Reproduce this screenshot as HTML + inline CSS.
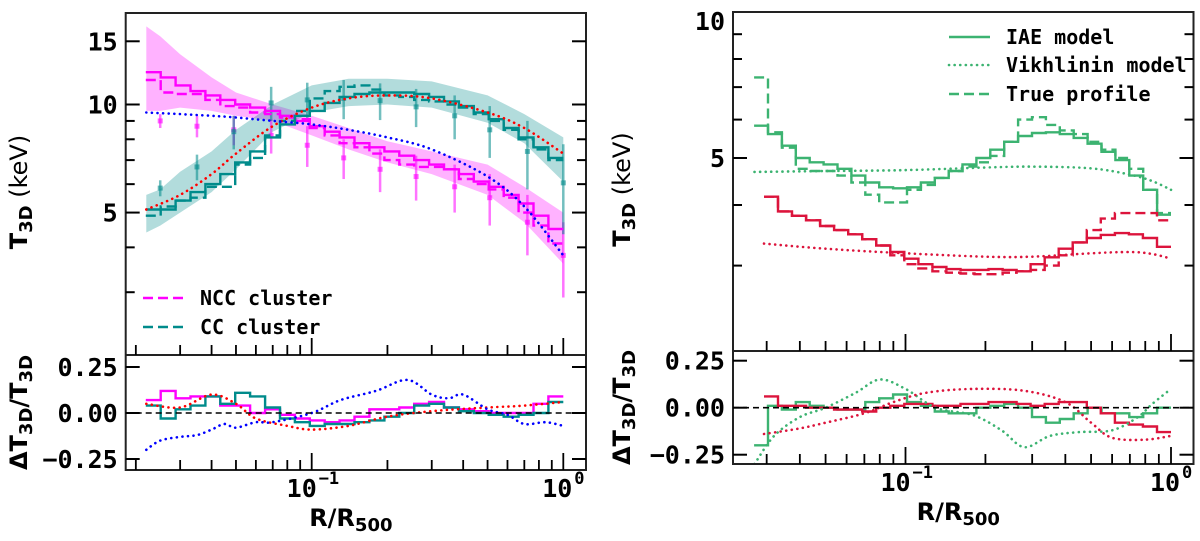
<!DOCTYPE html>
<html><head><meta charset="utf-8"><style>
html,body{margin:0;padding:0;background:#fff;}
svg{display:block;}
.tk{font-family:"DejaVu Sans Mono","Liberation Mono",monospace;font-weight:bold;font-size:25px;fill:#000;}
.lg{font-family:"DejaVu Sans Mono","Liberation Mono",monospace;font-weight:bold;font-size:20px;fill:#000;}
.ax{font-family:"DejaVu Sans","Liberation Sans",sans-serif;font-weight:bold;font-size:24px;fill:#000;}
</style></head><body>
<svg id="fig" width="1200" height="541" viewBox="0 0 1200 541" xmlns="http://www.w3.org/2000/svg"></svg>
<script>
// ---------- LEFT PANEL DATA ----------
const leftBinStart = 0.0219;
const nccSolid = [12.3,11.9,11.3,10.9,10.6,10.3,10.0,9.8,9.6,9.3,9.0,8.7,8.4,8.1,7.8,7.6,7.4,7.2,7.0,6.8,6.6,6.4,6.1,5.9,5.6,5.3,4.9,4.5];
const nccDashed = [11.7,10.8,10.7,10.7,10.3,9.9,9.8,9.5,9.4,9.2,9.1,8.6,8.2,7.8,7.6,7.3,7.0,6.8,6.7,6.7,6.6,6.2,6.0,5.8,5.5,5.0,4.6,4.1];
const ccSolid = [5.1,5.1,5.4,5.7,6.0,6.4,6.9,7.4,8.1,8.8,9.3,9.6,10.1,10.5,10.7,10.8,10.8,10.8,10.7,10.5,10.2,9.9,9.5,9.1,8.6,8.1,7.6,7.1];
const ccDashed = [4.9,5.2,5.4,5.5,5.9,5.9,6.8,7.1,8.2,9.0,9.6,10.4,10.9,11.2,11.3,11.0,10.6,10.5,10.3,10.2,10.0,9.8,9.4,9.0,8.5,8.0,7.5,7.0];
const leftModelX = [0.022,0.03,0.04,0.05,0.07,0.1,0.14,0.2,0.3,0.5,0.7,1.0];
const ccModel = [5.1,5.6,6.4,7.3,8.7,9.8,10.4,10.6,10.4,9.5,8.6,7.3];
const nccModel = [9.5,9.4,9.3,9.2,9.0,8.8,8.5,8.1,7.5,6.3,5.2,3.8];
const bandX = [0.022,0.025,0.03,0.04,0.05,0.07,0.1,0.14,0.2,0.3,0.5,0.7,1.0];
const nccUpper = [16.5,15.5,13.8,11.9,10.8,10.0,9.3,8.6,7.9,7.4,6.8,5.9,5.0];
const nccLower = [9.6,9.6,9.8,9.6,9.3,9.0,8.2,7.5,6.9,6.4,5.6,4.7,3.6];
const ccUpper = [5.6,5.8,6.5,7.4,8.5,10.0,11.3,11.8,11.8,11.6,10.6,9.4,8.1];
const ccLower = [4.4,4.6,5.0,5.7,6.6,8.4,9.5,9.9,10.0,9.8,8.9,7.8,6.1];
const pointX = [0.025,0.035,0.049,0.069,0.096,0.134,0.187,0.26,0.37,0.51,0.72,1.0];
const nccPoints = [9.0,8.7,8.5,8.2,7.7,7.1,6.6,6.3,5.9,5.5,4.7,3.8];
const nccErr = [0.4,0.6,0.8,0.9,1.0,0.9,0.9,0.9,0.9,0.9,0.9,0.9];
const ccPoints = [5.85,6.7,8.4,10.1,10.3,10.4,10.25,9.85,9.3,8.5,7.4,6.05];
const ccErr = [0.3,0.55,0.9,1.1,1.2,1.3,1.2,1.2,1.3,1.4,1.6,1.7];
const nccRes = [0.07,0.12,0.08,0.09,0.09,0.04,0.04,0.0,0.02,-0.01,-0.03,-0.04,-0.05,-0.04,-0.02,0.02,0.02,0.03,0.05,0.06,0.03,0.02,0.01,0.0,0.0,0.0,0.05,0.09];
const ccRes = [0.04,-0.03,0.02,0.04,0.09,0.05,0.11,0.09,0.03,-0.03,-0.05,-0.07,-0.06,-0.06,-0.05,-0.04,-0.02,0.0,0.04,0.05,0.03,0.01,0.0,-0.01,-0.02,-0.01,0.0,0.06];
const ccModelResX = [0.022,0.03,0.04,0.05,0.06,0.08,0.1,0.14,0.2,0.3,0.5,0.7,1.0];
const ccModelRes = [0.05,0.03,0.1,0.05,-0.03,-0.07,-0.09,-0.07,-0.02,0.01,0.03,0.04,0.06];
const nccModelResX = [0.022,0.025,0.03,0.035,0.04,0.045,0.05,0.06,0.07,0.1,0.13,0.18,0.24,0.3,0.35,0.4,0.5,0.6,0.7,0.85,1.0];
const nccModelRes = [-0.2,-0.15,-0.13,-0.12,-0.09,-0.06,-0.08,-0.05,-0.05,0.0,0.07,0.12,0.18,0.1,0.08,0.1,0.02,-0.01,-0.06,-0.05,-0.07];
// ---------- RIGHT PANEL DATA ----------
const greenBinStart = 0.0269;
const redBinStart = 0.0293;
const greenIAE = [5.83,5.6,5.3,5.0,4.9,4.85,4.75,4.6,4.45,4.35,4.33,4.35,4.45,4.55,4.7,4.85,5.0,5.2,5.4,5.55,5.63,5.65,5.6,5.5,5.35,5.15,4.95,4.6,4.3,3.82];
const greenTrue = [7.33,5.65,5.25,4.75,4.7,4.7,4.6,4.45,4.2,4.05,4.05,4.3,4.4,4.55,4.7,4.8,4.9,5.05,5.4,6.0,6.07,5.85,5.7,5.6,5.4,5.2,5.0,4.75,4.3,3.85];
const greenVikX = [0.027,0.05,0.1,0.2,0.3,0.5,0.7,0.85,1.0];
const greenVik = [4.68,4.7,4.72,4.78,4.8,4.76,4.62,4.48,4.3];
const redIAE = [4.16,3.88,3.8,3.72,3.62,3.55,3.48,3.4,3.3,3.2,3.1,3.02,2.98,2.95,2.94,2.94,2.95,2.94,2.92,3.02,3.12,3.25,3.35,3.42,3.47,3.5,3.48,3.42,3.28];
const redTrue = [4.16,3.88,3.8,3.72,3.62,3.55,3.48,3.4,3.3,3.15,3.02,2.96,2.92,2.9,2.89,2.88,2.88,2.9,2.92,2.94,3.0,3.15,3.35,3.55,3.75,3.85,3.85,3.85,3.72];
const redVikX = [0.0293,0.05,0.1,0.2,0.3,0.5,0.7,0.85,1.0];
const redVik = [3.33,3.25,3.18,3.13,3.13,3.18,3.2,3.17,3.1];
const greenRes = [-0.2,0.01,-0.01,0.03,0.01,0.0,-0.01,-0.01,0.03,0.05,0.07,0.03,0.01,-0.02,-0.03,-0.03,0.0,0.01,0.02,0.0,-0.05,-0.08,-0.06,-0.03,0.0,-0.03,-0.03,-0.05,-0.03,0.0];
const redRes = [0.06,0.01,0.01,0.0,0.0,-0.01,-0.01,-0.02,0.0,0.01,0.02,0.02,0.01,0.01,0.02,0.02,0.03,0.03,0.02,0.01,0.02,0.03,0.03,0.0,-0.03,-0.08,-0.09,-0.1,-0.13];
const greenVikResX = [0.027,0.032,0.04,0.05,0.065,0.08,0.1,0.13,0.18,0.23,0.28,0.35,0.45,0.6,0.75,0.85,1.0];
const greenVikRes = [-0.3,-0.15,-0.05,0.0,0.08,0.15,0.1,0.0,-0.04,-0.12,-0.21,-0.15,-0.13,-0.12,-0.05,0.02,0.1];
const redVikResX = [0.0293,0.04,0.05,0.07,0.09,0.12,0.18,0.28,0.4,0.5,0.6,0.8,1.0];
const redVikRes = [-0.14,-0.11,-0.08,-0.03,0.03,0.08,0.1,0.09,0.03,-0.08,-0.16,-0.17,-0.15];
const mainTickVals = [2,3,4,5,6,7,8,9,10,15];
const resTickVals = [-0.25,0,0.25];

const NS = "http://www.w3.org/2000/svg";
const fig = document.getElementById('fig');
function mk(tag, attrs, parent){ const e=document.createElementNS(NS,tag); for(const k in attrs) e.setAttribute(k,attrs[k]); (parent||fig).appendChild(e); return e; }
const L10=Math.log10;

const PL = {x0:125.7,x1:586,dec:251.6,xm1:311.7, top:13,mid:355,bot:470, ref:104.5,ydec:359, zero:413, runit:184, clip:'cl'};
const PR = {x0:733,x1:1193.5,dec:265.5,xm1:905.5, top:12,mid:351,bot:464, ref:12,ydec:485, zero:407.7, runit:188, clip:'cr'};
function X(P,v){return P.xm1+(L10(v)+1)*P.dec;}
function Y(P,v){return P.ref-(L10(v)-1)*P.ydec;}
function R(P,v){return P.zero-v*P.runit;}

const defs=mk('defs',{});
[PL,PR].forEach(P=>{
  const c1=mk('clipPath',{id:P.clip+'m'},defs); mk('rect',{x:P.x0,y:P.top,width:P.x1-P.x0,height:P.mid-P.top},c1);
  const c2=mk('clipPath',{id:P.clip+'r'},defs); mk('rect',{x:P.x0,y:P.mid,width:P.x1-P.x0,height:P.bot-P.mid},c2);
});

function stepPath(P,start,vals,yf){
  const n=vals.length, a=L10(start), w=-a/n; let d='';
  for(let i=0;i<n;i++){ const xa=X(P,Math.pow(10,a+i*w)), xb=X(P,Math.pow(10,a+(i+1)*w)), y=yf(vals[i]);
    d += (i===0?'M':'L')+xa.toFixed(1)+','+y.toFixed(1)+'H'+xb.toFixed(1); }
  return d;
}
function smooth(pts){
  let d='M'+pts[0][0].toFixed(1)+','+pts[0][1].toFixed(1);
  for(let i=0;i<pts.length-1;i++){const p0=pts[Math.max(0,i-1)],p1=pts[i],p2=pts[i+1],p3=pts[Math.min(pts.length-1,i+2)];
    const c1=[p1[0]+(p2[0]-p0[0])/6,p1[1]+(p2[1]-p0[1])/6], c2=[p2[0]-(p3[0]-p1[0])/6,p2[1]-(p3[1]-p1[1])/6];
    d+='C'+c1.map(v=>v.toFixed(1))+' '+c2.map(v=>v.toFixed(1))+' '+p2[0].toFixed(1)+','+p2[1].toFixed(1);}
  return d;
}
function curve(P,xs,ys,yf,color,name,clip){
  const e=mk('path',{d:smooth(xs.map((x,i)=>[X(P,x),yf(ys[i])])),fill:'none',stroke:color,'stroke-width':2.6,'stroke-dasharray':'0.1 5.5','stroke-linecap':'round','clip-path':'url(#'+clip+')'});
  
  
}
function step(P,start,vals,yf,color,dash,name,clip){
  const e=mk('path',{d:stepPath(P,start,vals,yf),fill:'none',stroke:color,'stroke-width':2.4,'clip-path':'url(#'+clip+')'});
  if(dash) e.setAttribute('stroke-dasharray',dash);
  
  
}
function band(P,xs,up,lo,color,name){
  const pts=xs.map((x,i)=>X(P,x).toFixed(1)+','+Y(P,up[i]).toFixed(1)).concat(xs.map((x,i)=>X(P,x).toFixed(1)+','+Y(P,lo[i]).toFixed(1)).reverse());
  const e=mk('polygon',{points:pts.join(' '),fill:color,'fill-opacity':0.3,stroke:'none','clip-path':'url(#'+P.clip+'m)'});
  
  
}
function points(P,xs,vals,errs,color,name){
  const g=mk('g',{});
  
  
  xs.forEach((x,i)=>{const px=X(P,x);
    mk('line',{x1:px,x2:px,y1:Y(P,vals[i]+errs[i]),y2:Y(P,vals[i]-errs[i]),stroke:color,'stroke-width':2.5,'stroke-opacity':0.55},g);
    mk('rect',{x:px-2.5,y:Y(P,vals[i])-2.5,width:5,height:5,fill:color,'fill-opacity':0.6},g);});
}

function axes(P,side){
  const g=mk('g',{});
  
  
  mk('rect',{x:P.x0,y:P.top,width:P.x1-P.x0,height:P.bot-P.top,fill:'none',stroke:'#222','stroke-width':2},g);
  mk('line',{x1:P.x0,x2:P.x1,y1:P.mid,y2:P.mid,stroke:'#222','stroke-width':2},g);
  // zero line
  mk('line',{x1:P.x0,x2:P.x1,y1:P.zero,y2:P.zero,stroke:'#000','stroke-width':1.6,'stroke-dasharray':'6 4'},g);
  // y ticks main
  mainTickVals.forEach(v=>{const y=Y(P,v); if(y<P.top+1||y>P.mid-1) return; const maj=(v===5||v===10||v===15); const l=maj?14:9;
    mk('line',{x1:P.x0,x2:P.x0+l,y1:y,y2:y,stroke:'#000','stroke-width':2},g);
    mk('line',{x1:P.x1,x2:P.x1-l,y1:y,y2:y,stroke:'#000','stroke-width':2},g);
    if(maj){const t=mk('text',{x:P.x0-8,y:y+9,'text-anchor':'end',class:'tk'},g); t.textContent=String(v);}
  });
  if(side==='right'){const t=mk('text',{x:P.x0-8,y:P.top+18,'text-anchor':'end',class:'tk'},g); t.textContent='10';}
  resTickVals.forEach(v=>{const y=R(P,v);
    mk('line',{x1:P.x0,x2:P.x0+14,y1:y,y2:y,stroke:'#000','stroke-width':2},g);
    mk('line',{x1:P.x1,x2:P.x1-14,y1:y,y2:y,stroke:'#000','stroke-width':2},g);
    const t=mk('text',{x:P.x0-8,y:y+9,'text-anchor':'end',class:'tk'},g); t.textContent=(v<0?'\u22120.25':v===0?'0.00':'0.25');
  });
  // x ticks
  for(let e=-2;e<=0;e++) for(let m=1;m<10;m++){const v=m*Math.pow(10,e); const x=X(P,v); if(x<P.x0+2||x>P.x1-2) continue; const l=(m===1)?17:10;
    mk('line',{x1:x,x2:x,y1:P.mid,y2:P.mid-l,stroke:'#000','stroke-width':1.8},g);
    mk('line',{x1:x,x2:x,y1:P.bot,y2:P.bot-l,stroke:'#000','stroke-width':1.8},g);}
  [[-1,'\u22121'],[0,'0']].forEach(([e,s])=>{const x=X(P,Math.pow(10,e));
    const t=mk('text',{x:x-(e<0?10:6),y:P.bot+27,'text-anchor':'middle',class:'tk'},g); t.textContent='10';
    const s2=mk('text',{x:x-(e<0?10:6)+17,y:P.bot+14,'text-anchor':'start',class:'tk','font-size':'17'},g); s2.textContent=s; s2.setAttribute('style','font-size:17px');});
  const xl=mk('text',{x:(P.x0+P.x1)/2-5,y:P.bot+56,'text-anchor':'middle',class:'ax'},g);
  
  
  xl.innerHTML='R/R<tspan dy="5" style="font-size:18px">500</tspan>';
  const lx = side==='left'?27:P.x0-103;
  const yl=mk('text',{transform:'translate('+lx+','+((P.top+P.mid)/2+8)+') rotate(-90)','text-anchor':'middle',class:'ax'},g);
  
  
  yl.innerHTML='T<tspan dy="5" style="font-size:18px">3D</tspan><tspan dy="-5" style="font-weight:normal">  (keV)</tspan>';
  const rl=mk('text',{transform:'translate('+lx+','+((P.mid+P.bot)/2)+') rotate(-90)','text-anchor':'middle',class:'ax'},g);
  
  
  rl.innerHTML='\u0394T<tspan dy="5" style="font-size:18px">3D</tspan><tspan dy="-5">/T</tspan><tspan dy="5" style="font-size:18px">3D</tspan>';
}

// LEFT
const MAG='#ff00ff', TEAL='#008b8b';
band(PL,bandX,nccUpper,nccLower,MAG,'ncc-band');
band(PL,bandX,ccUpper,ccLower,TEAL,'cc-band');
points(PL,pointX,nccPoints,nccErr,MAG,'ncc-data-points');
points(PL,pointX,ccPoints,ccErr,TEAL,'cc-data-points');
step(PL,leftBinStart,nccDashed,v=>Y(PL,v),MAG,'10 5','ncc-true-profile','clm');
step(PL,leftBinStart,nccSolid,v=>Y(PL,v),MAG,null,'ncc-iae-model','clm');
step(PL,leftBinStart,ccDashed,v=>Y(PL,v),TEAL,'10 5','cc-true-profile','clm');
step(PL,leftBinStart,ccSolid,v=>Y(PL,v),TEAL,null,'cc-iae-model','clm');
curve(PL,leftModelX,ccModel,v=>Y(PL,v),'#ff0000','cc-vikhlinin-model','clm');
curve(PL,leftModelX,nccModel,v=>Y(PL,v),'#0000ff','ncc-vikhlinin-model','clm');
step(PL,leftBinStart,nccRes,v=>R(PL,v),MAG,null,'ncc-residual','clr');
step(PL,leftBinStart,ccRes,v=>R(PL,v),TEAL,null,'cc-residual','clr');
curve(PL,ccModelResX,ccModelRes,v=>R(PL,v),'#ff0000','cc-vikhlinin-residual','clr');
curve(PL,nccModelResX,nccModelRes,v=>R(PL,v),'#0000ff','ncc-vikhlinin-residual','clr');
axes(PL,'left');

// RIGHT
const GRN='#3cb371', RED='#dc143c';
step(PR,greenBinStart,greenTrue,v=>Y(PR,v),GRN,'10 5','green-true-profile','crm');
step(PR,greenBinStart,greenIAE,v=>Y(PR,v),GRN,null,'green-iae-model','crm');
curve(PR,greenVikX,greenVik,v=>Y(PR,v),GRN,'green-vikhlinin-model','crm');
step(PR,redBinStart,redTrue,v=>Y(PR,v),RED,'10 5','red-true-profile','crm');
step(PR,redBinStart,redIAE,v=>Y(PR,v),RED,null,'red-iae-model','crm');
curve(PR,redVikX,redVik,v=>Y(PR,v),RED,'red-vikhlinin-model','crm');
step(PR,greenBinStart,greenRes,v=>R(PR,v),GRN,null,'green-residual','crr');
step(PR,redBinStart,redRes,v=>R(PR,v),RED,null,'red-residual','crr');
curve(PR,greenVikResX,greenVikRes,v=>R(PR,v),GRN,'green-vikhlinin-residual','crr');
curve(PR,redVikResX,redVikRes,v=>R(PR,v),RED,'red-vikhlinin-residual','crr');
axes(PR,'right');

// LEGENDS
function legendEntry(x,y,color,dash,label,name){
  const g=mk('g',{});
  
  
  const l=mk('line',{x1:x,x2:x+41,y1:y,y2:y,stroke:color,'stroke-width':2.6},g);
  if(dash==='dot'){l.setAttribute('stroke-dasharray','0.1 5.5');l.setAttribute('stroke-linecap','round');}
  else if(dash) l.setAttribute('stroke-dasharray',dash);
  const t=mk('text',{x:x+57,y:y+7,class:'lg'},g); t.textContent=label;
}
legendEntry(143,298,MAG,'10 5','NCC cluster','legend-ncc');
legendEntry(143,327,TEAL,'10 5','CC cluster','legend-cc');
legendEntry(949,37,GRN,null,'IAE model','legend-iae');
legendEntry(949,65,GRN,'dot','Vikhlinin model','legend-vikhlinin');
legendEntry(949,94,GRN,'10 5','True profile','legend-true');
</script>
</body></html>
